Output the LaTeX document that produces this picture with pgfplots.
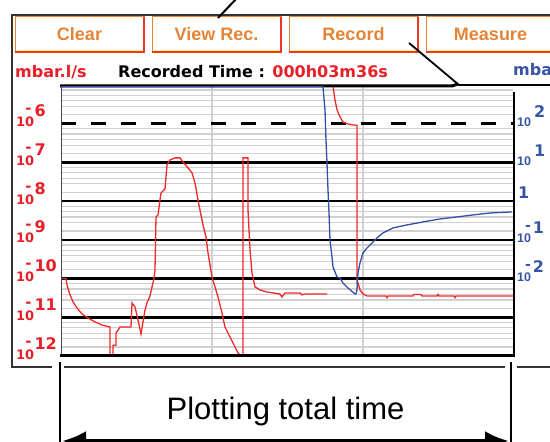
\documentclass[border=0pt]{standalone}
\usepackage{pgfplots}
\pgfplotsset{compat=1.18}
\usepackage{fontspec}
\setmainfont{Liberation Sans}
\newfontfamily\dvb{DejaVu Sans}
\usetikzlibrary{arrows.meta}
\definecolor{scrred}{RGB}{232,30,40}
\definecolor{scrblue}{RGB}{55,85,165}
\definecolor{btnorange}{RGB}{228,132,55}
\definecolor{btnred}{RGB}{235,55,40}
\definecolor{gridgray}{RGB}{208,208,208}
\definecolor{curvered}{RGB}{240,40,40}
\definecolor{curveblue}{RGB}{50,80,170}
\newcommand\leftlab[1]{{\dvb\bfseries\fontsize{13}{13}\selectfont 10}\hspace{-9pt}\raisebox{13pt}{\dvb\bfseries\fontsize{15}{15}\selectfont -}\hspace{3pt}\raisebox{10pt}{\dvb\bfseries\fontsize{16}{16}\selectfont #1}}
\newcommand\rtn[1]{{\bfseries\fontsize{12.5}{12.5}\selectfont 10}\hspace{-6pt}\raisebox{12pt}{\dvb\bfseries\fontsize{14}{14}\selectfont -}\hspace{2pt}\raisebox{9pt}{\dvb\bfseries\fontsize{16}{16}\selectfont #1}}
\newcommand\rtp[1]{{\bfseries\fontsize{12.5}{12.5}\selectfont 10}\hspace{3pt}\raisebox{9pt}{\dvb\bfseries\fontsize{16}{16}\selectfont #1}}
\newcommand\rone{\raisebox{6pt}{\dvb\bfseries\fontsize{16}{16}\selectfont\hspace{1pt}1}}
\begin{document}
\begin{tikzpicture}
\useasboundingbox (0,0) rectangle (550pt,442pt);
% ---------- screen furniture (image coordinates) ----------
\begin{scope}[x=1pt,y=-1pt,yshift=442pt]
\draw[line width=1.2pt, black!80] (552,15) -- (12,15) -- (12,367) -- (52,367);
\draw[line width=1.2pt, black!80] (64,367) -- (505,367);
\draw[line width=1.2pt, black!80] (517,367) -- (552,367);
\foreach \a/\btn in {15/Clear,152/View Rec.,289/Record,426/Measure}{
  \fill[white] (\a,17) rectangle (\a+129,52);
  \draw[btnorange, line width=1pt] (\a,17) rectangle (\a+129,52);
  \draw[yellow!60!white, line width=0.8pt] (\a+1.5,50) -- (\a+127.5,50);
  \draw[btnred, line width=1.6pt] (\a,52) -- (\a+129,52) -- (\a+129,17);
  \node[text=btnorange, font=\fontsize{18}{18}\selectfont\bfseries, anchor=base] at (\a+64.5,41) {\btn};
}
\node[anchor=base west, inner sep=0pt, text=scrred, font=\dvb\bfseries\fontsize{16}{16}\selectfont] at (15,78) {mbar.l/s};
\node[anchor=base west, inner sep=0pt, text=black, font=\dvb\bfseries\fontsize{16}{16}\selectfont] at (118,78) {Recorded Time : \textcolor{scrred}{000h03m36s}};
\node[anchor=base west, inner sep=0pt, text=scrblue, font=\dvb\bfseries\fontsize{16}{16}\selectfont] at (513,76) {mba};
\draw[line width=2pt] (218,18) -- (237,-2);
\draw[line width=1.8pt] (409,43) -- (459,85) -- (552,85);
% bracket and arrow
\draw[line width=2.5pt] (60,362) -- (60,445);
\draw[line width=2.5pt] (511,362) -- (511,445);
\draw[line width=4pt, {Latex[length=24pt,width=20pt]}-{Latex[length=24pt,width=20pt]}] (62,441) -- (509,441);
\node[anchor=base, inner sep=0pt, font=\fontsize{31}{31}\selectfont] at (285.5,420) {Plotting total time};
\end{scope}
% ---------- left axis (red, mbar.l/s) ----------
\begin{axis}[at={(61pt,86pt)}, anchor=south west, scale only axis,
  width=452pt, height=271pt,
  xmin=0, xmax=452, ymode=log, ymin=1e-12, ymax=1e-5,
  axis line style={draw=none},
  xtick=\empty,
  ytick={1e-12,1e-11,1e-10,1e-9,1e-8,1e-7,1e-6},
  yticklabels={\leftlab{12},\leftlab{11},\leftlab{10},\leftlab{9},\leftlab{8},\leftlab{7},\leftlab{6}},
  minor ytick={1.7e-12,2.8e-12,3.9e-12,5.4e-12,7.4e-12,1.7e-11,2.8e-11,3.9e-11,5.4e-11,7.4e-11,1.7e-10,2.8e-10,3.9e-10,5.4e-10,7.4e-10,1.7e-9,2.8e-9,3.9e-9,5.4e-9,7.4e-9,1.7e-8,2.8e-8,3.9e-8,5.4e-8,7.4e-8,1.7e-7,2.8e-7,3.9e-7,5.4e-7,7.4e-7,1.7e-6,2.8e-6,3.9e-6,5.4e-6,7.4e-6},
  yminorgrids=true, ymajorgrids=false,
  minor grid style={draw=gridgray, line width=1.2pt},
  major tick length=0pt, minor tick length=0pt,
  yticklabel style={anchor=base west, inner sep=0pt, xshift=-45pt, yshift=-3pt, text=scrred},
]
\draw[gridgray, line width=1.4pt] (axis cs:151,1e-12) -- (axis cs:151,1e-5);
\draw[gridgray, line width=1.4pt] (axis cs:302,1e-12) -- (axis cs:302,1e-5);
\draw[black, line width=2.7pt] (axis cs:0,1e-11) -- (axis cs:452,1e-11);
\draw[black, line width=2.7pt] (axis cs:0,1e-10) -- (axis cs:452,1e-10);
\draw[black, line width=2.7pt] (axis cs:0,1e-9) -- (axis cs:452,1e-9);
\draw[black, line width=2.7pt] (axis cs:0,1e-8) -- (axis cs:452,1e-8);
\draw[black, line width=2.7pt] (axis cs:0,1e-7) -- (axis cs:452,1e-7);
\draw[black, line width=3pt, dash pattern=on 15pt off 15pt] (axis cs:0,1e-6) -- (axis cs:452,1e-6);
\addplot[curvered, line width=1.3pt] coordinates {
(1,1e-10) (5,1e-10) (6,6.8e-11) (9,3.8e-11) (12,2.5e-11) (16,1.74e-11) (21,1.22e-11)
(27,9.6e-12) (34,7.6e-12) (41,6.3e-12) (49,5.6e-12) (49,8e-13) (52,8e-13) (52,1.9e-12)
(55,1.9e-12) (55,3.9e-12) (59,5.6e-12) (70,5.6e-12) (71,2.35e-11) (74,1.85e-11)
(77,8.5e-12) (80,3.7e-12) (82,7.6e-12) (84,1.55e-11) (86,2.35e-11) (89,3.55e-11)
(91,6.1e-11) (93,1e-10) (94,1.67e-10) (95,3.9e-9) (97,4.4e-9) (99,1.07e-8) (100,1.63e-8)
(104,2.07e-8) (106,8.6e-8) (109,1.16e-7) (114,1.31e-7) (119,1.31e-7) (122,1.03e-7)
(127,7.2e-8) (131,5.4e-8) (134,2.95e-8) (137,1.07e-8) (139,5.9e-9) (142,2.43e-9)
(145,1.19e-9) (147,4.6e-10) (151,1.1e-10) (154,6.1e-11) (157,3.35e-11) (161,1.29e-11)
(164,5.6e-12) (169,3.1e-12) (174,1.71e-12) (177,1.2e-12) (181,9.5e-13) (182,9.5e-13)
(182,1.31e-7) (187,1.31e-7) (187,5.9e-9) (189,5.5e-10) (191,1.4e-10) (194,6.1e-11)
(199,5.07e-11) (206,4.5e-11) (219,4.0e-11) (221,3.35e-11) (224,4.25e-11) (239,4.25e-11)
(241,3.8e-11) (244,4.0e-11) (266,4.0e-11)
};
\addplot[curvered, line width=1.3pt] coordinates {
(272,9.5e-6) (274,4.1e-6) (276,2.3e-6) (279,1.5e-6) (282,1.11e-6) (286,1.0e-6)
(292,9.3e-7) (296,9.1e-7) (296,7.7e-11) (297,7.7e-11) (299,5.07e-11) (302,4.0e-11)
(306,3.55e-11) (325,3.55e-11) (326,3.2e-11) (327,3.55e-11) (352,3.55e-11) (353,3.9e-11)
(360,3.9e-11) (361,3.55e-11) (376,3.55e-11) (377,3.9e-11) (378,3.55e-11) (393,3.55e-11)
(394,3.2e-11) (395,3.55e-11) (452,3.55e-11)
};
\end{axis}
% ---------- plot frame ----------
\begin{scope}[x=1pt,y=-1pt,yshift=442pt]
\draw[black!70, line width=0.9pt] (61,86) -- (61,357);
\draw[black, line width=3pt] (60,356) -- (514,356);
\draw[black, line width=3pt] (60,86) -- (452,86) -- (458,84);
\draw[black, line width=2pt] (513.5,92) -- (513.5,357);
\end{scope}
% ---------- right axis (blue) ----------
\begin{axis}[at={(61pt,86pt)}, anchor=south west, scale only axis,
  width=452pt, height=271pt,
  xmin=0, xmax=452, ymode=log, ymin=1e-4, ymax=1e3,
  axis line style={draw=none},
  xtick=\empty,
  ytick={1e-2,1e-1,1,1e1,1e2},
  yticklabels={\rtn{2},\rtn{1},\rone,\rtp{1},\rtp{2}},
  yticklabel pos=right,
  major tick length=0pt, minor tick length=0pt,
  yticklabel style={anchor=base west, inner sep=0pt, xshift=4pt, yshift=-3pt, text=scrblue},
]
\addplot[curveblue, line width=1.3pt] coordinates {
(0,9e2) (262,9e2) (264,227) (265,38) (266,9.7) (267,1.95) (268,0.5) (269,0.099)
(271,0.036) (272,0.02) (276,0.011) (279,0.0104) (282,7.7e-3) (287,5.7e-3) (294,4.0e-3)
(295,4.0e-3) (296,5.1e-3) (297,0.014) (299,0.0253) (302,0.0458) (306,0.0618)
(311,0.0832) (316,0.112) (322,0.151) (332,0.203) (346,0.243) (362,0.29) (379,0.347)
(396,0.391) (412,0.44) (429,0.495) (451,0.526)
};
\end{axis}
\end{tikzpicture}
\end{document}
